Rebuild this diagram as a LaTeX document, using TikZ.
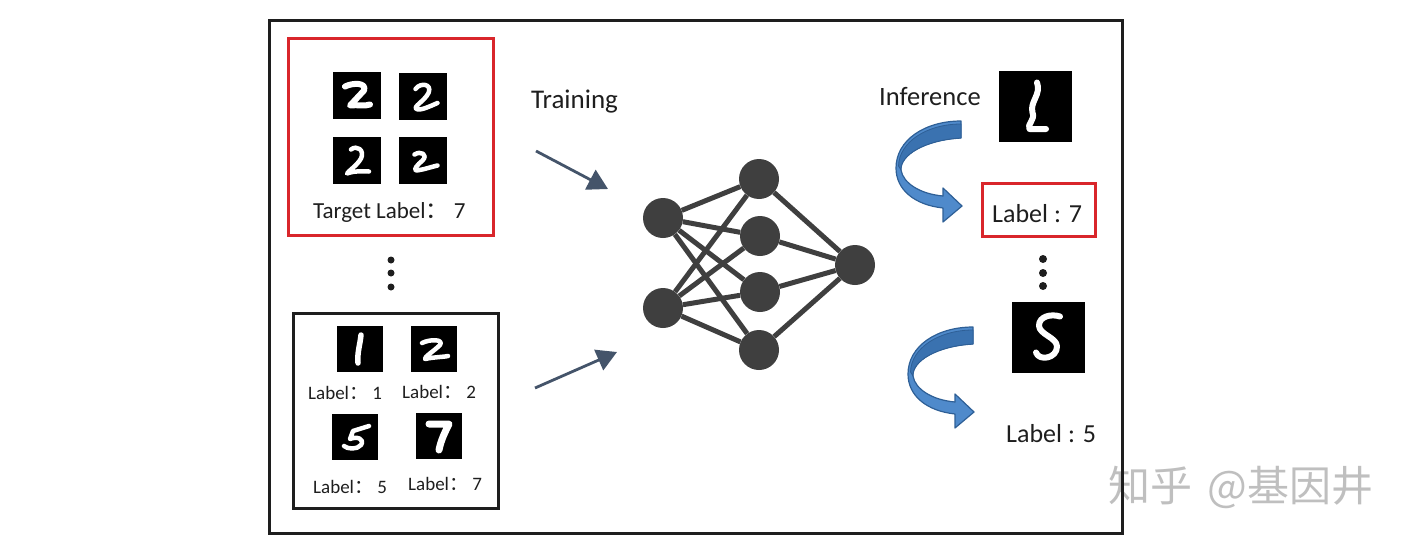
\documentclass[tikz,border=0pt]{standalone}
\usepackage{fontspec}
\setmainfont{Carlito}
\newfontfamily\cjk{Noto Sans CJK SC}
\usetikzlibrary{arrows.meta}
\definecolor{boxred}{HTML}{D9262B}
\definecolor{netgray}{HTML}{3F3F3F}
\definecolor{slate}{HTML}{44546A}
\definecolor{arrblue}{HTML}{4F8ACB}
\definecolor{arrdark}{HTML}{3A72B0}
\definecolor{arredge}{HTML}{2E5F96}
\definecolor{txt}{HTML}{1E1E1E}
\begin{document}
\begin{tikzpicture}[x=1pt,y=-1pt,
  img/.style={fill=black, inner sep=0pt, minimum width=48pt, minimum height=47pt},
  bigimg/.style={fill=black, inner sep=0pt, minimum width=73pt, minimum height=71pt},
  digit/.style={draw=white, line width=4.5pt, line cap=round, line join=round},
  neuron/.style={circle, fill=netgray, inner sep=0pt, minimum size=40pt},
  edge/.style={draw=netgray, line width=5pt},
  dotn/.style={circle, fill=txt, inner sep=0pt, minimum size=7pt},
  trarrow/.style={draw=slate, line width=2.8pt, -{Triangle[length=20pt,width=22pt]}},
  lbl/.style={anchor=base west, inner sep=0pt, text=txt},
]
\useasboundingbox (0,0) rectangle (1410,546);

% watermark
\node[anchor=base west, inner sep=0pt, text=black!25, font=\cjk\fontsize{42}{42}\selectfont] (wm) at (1108,501) {知乎\hspace{6pt} @基因井};

% frame
\node[draw=txt, line width=3pt, inner sep=0pt, minimum width=853pt, minimum height=513pt] (frame) at (695.5,276.5) {};

% red training box
\node[draw=boxred, line width=3pt, inner sep=0pt, minimum width=205pt, minimum height=197pt] (redbox) at (390.5,136.5) {};
\node[img] (a1) at (357,95.5) {};
\node[img] (a2) at (422.5,96) {};
\node[img] (a3) at (357,160.5) {};
\node[img] (a4) at (422.5,160.5) {};
\draw[digit, line width=6pt, shift={(a1.center)}] (-12,-9) .. controls (-4,-13) and (10,-13) .. (7,-5) -- (-7,10) .. controls (0,9) and (8,11) .. (13,9);
\draw[digit, shift={(a2.center)}] (-7,-7) .. controls (-2,-14) and (10,-12) .. (6,-3) .. controls (2,5) and (-10,11) .. (-6,13) .. controls (-2,15) and (8,10) .. (15,7);
\draw[digit, shift={(a3.center)}] (-6,-11) .. controls (0,-16) and (8,-10) .. (4,-2) .. controls (0,5) and (-8,10) .. (-10,13) .. controls (-2,10) and (6,11) .. (12,11);
\draw[digit, shift={(a4.center)}] (-8,-6) .. controls (-2,-10) and (6,-6) .. (0,0) .. controls (-5,4) and (-10,10) .. (-6,10) .. controls (2,9) and (10,6) .. (15,5);
\node[lbl, font=\fontsize{23}{26}\selectfont] (tlabel) at (313,218) {Target Label{\cjk ：} 7};

% dots left
\node[dotn] (d1) at (391,260) {};
\node[dotn] (d2) at (391,273) {};
\node[dotn] (d3) at (391,287) {};

% black labelled box
\node[draw=txt, line width=3pt, inner sep=0pt, minimum width=205pt, minimum height=195pt] (blackbox) at (395.5,410.5) {};
\node[img, minimum width=46pt, minimum height=46pt] (b1) at (360,349) {};
\node[img, minimum width=46pt, minimum height=46pt] (b2) at (434,349) {};
\node[img, minimum width=46pt, minimum height=46pt] (b5) at (355,437) {};
\node[img, minimum width=46pt, minimum height=46pt] (b7) at (439,436) {};
\draw[digit, line width=5.5pt, shift={(b1.center)}] (1,-14) .. controls (0,-4) and (-3,4) .. (-2,14);
\draw[digit, shift={(b2.center)}] (-12,-6) .. controls (-4,-10) and (10,-10) .. (6,-4) .. controls (0,2) and (-10,8) .. (-9,10) .. controls (0,8) and (10,8) .. (14,7);
\draw[digit, shift={(b5.center)}] (14,-11) -- (-2,-6) -- (-5,2) .. controls (2,-1) and (10,2) .. (6,8) .. controls (2,13) and (-8,12) .. (-11,9);
\draw[digit, line width=7pt, shift={(b7.center)}] (-10,-12) -- (10,-12) .. controls (6,-4) and (2,4) .. (0,14);
\node[lbl, font=\fontsize{19}{22}\selectfont] (l1) at (308,399) {Label{\cjk ：} 1};
\node[lbl, font=\fontsize{19}{22}\selectfont] (l2) at (402,398) {Label{\cjk ：} 2};
\node[lbl, font=\fontsize{19}{22}\selectfont] (l5) at (313,493) {Label{\cjk ：} 5};
\node[lbl, font=\fontsize{19}{22}\selectfont] (l7) at (408,490) {Label{\cjk ：} 7};

% training
\node[lbl, font=\fontsize{27}{30}\selectfont] (train) at (531,108) {Training};
\coordinate (ta1) at (536,151);
\coordinate (ta2) at (608,189);
\coordinate (tb1) at (535,388);
\coordinate (tb2) at (617,352);
\draw[trarrow] (ta1) -- (ta2);
\draw[trarrow] (tb1) -- (tb2);

% network
\node[neuron] (i1) at (663,218) {};
\node[neuron] (i2) at (663,308) {};
\node[neuron] (h1) at (759,179) {};
\node[neuron] (h2) at (760,236) {};
\node[neuron] (h3) at (760,292) {};
\node[neuron] (h4) at (759,350) {};
\node[neuron] (o) at (855,265) {};
\foreach \a in {i1,i2} \foreach \b in {h1,h2,h3,h4} \draw[edge] (\a) -- (\b);
\foreach \b in {h1,h2,h3,h4} \draw[edge] (\b) -- (o);

% inference
\node[lbl, font=\fontsize{26.5}{30}\selectfont] (infer) at (879,105) {Inference};
\node[bigimg] (c1) at (1035.5,106.5) {};
\node[bigimg] (c5) at (1048,337.5) {};
\draw[digit, line width=6pt, shift={(c1.center)}, scale=1.5] (1,-16) .. controls (4,-8) and (-4,-3) .. (-2,4) .. controls (0,9) and (-6,12) .. (-4,15) -- (7,15);
\draw[digit, line width=6pt, shift={(c5.center)}, scale=1.5] (8,-14) .. controls (2,-16) and (-6,-14) .. (-6,-8) .. controls (-6,-2) and (6,0) .. (6,6) .. controls (6,14) and (-6,16) .. (-8,10);

\foreach \dx/\dy in {0/0,12/206} {
  \begin{scope}[shift={(\dx,\dy)}]
    \filldraw[fill=arrblue, draw=arredge, line width=1.2pt, line join=round]
      (961,121) .. controls (925,121) and (896,140) .. (896,168)
      .. controls (896,190) and (915,205) .. (943,208) -- (943,222) -- (962,206) -- (943,188) -- (943,196)
      .. controls (920,194) and (903,183) .. (901,170)
      .. controls (900,155) and (925,140) .. (961,138) -- cycle;
    \filldraw[fill=arrdark, draw=arredge, line width=0.8pt, line join=round]
      (961,124) .. controls (927,124) and (899,142) .. (898.5,166) -- (901,170)
      .. controls (900,155) and (925,140) .. (961,138) -- cycle;
  \end{scope}
}

\node[draw=boxred, line width=3pt, inner sep=0pt, minimum width=113pt, minimum height=53pt] (redlab) at (1038.5,209.5) {};
\node[lbl, font=\fontsize{26}{30}\selectfont] (out7) at (992,222) {Label : 7};
\node[dotn, minimum size=8pt] (e1) at (1043,259) {};
\node[dotn, minimum size=8pt] (e2) at (1043,273) {};
\node[dotn, minimum size=8pt] (e3) at (1043,286) {};
\node[lbl, font=\fontsize{26}{30}\selectfont] (out5) at (1006,442) {Label : 5};
\end{tikzpicture}
\end{document}
